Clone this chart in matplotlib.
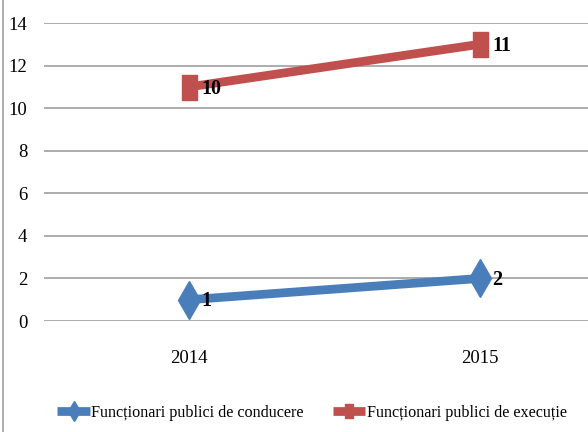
import numpy as np
import matplotlib.pyplot as plt
from matplotlib.lines import Line2D

plt.rcParams['font.family'] = ['Liberation Serif', 'DejaVu Serif']

ani = ['2014', '2015']
conducere = [1, 2]
executie = [10, 11]
serii = ['Funcționari publici de conducere', 'Funcționari publici de execuție']
y_ticks = [0, 2, 4, 6, 8, 10, 12, 14]

albastru = '#4A7EBB'
rosu = '#C0504D'

# patrat alungit pe verticala
dreptunghi = [(-0.6, -1), (0.6, -1), (0.6, 1), (-0.6, 1), (-0.6, -1)]

fig = plt.figure(figsize=(5.88, 4.32), dpi=100)
# zona graficului continua dincolo de marginea din dreapta
ax = fig.add_axes([44 / 588, 111 / 432, 581 / 588, 298 / 432])

x = np.arange(len(ani))
# linii cumulate: executie se aduna peste conducere
cumulat = np.array(conducere) + np.array(executie)

ax.plot(x, conducere, color=albastru, lw=6.3, marker='d', ms=19,
        solid_capstyle='butt', label=serii[0], zorder=3)
ax.plot(x, cumulat, color=rosu, lw=6.3, marker=dreptunghi, ms=18,
        solid_capstyle='butt', label=serii[1], zorder=3)

for xi, yi, v in zip(x, conducere, conducere):
    ax.annotate(str(v), (xi, yi), xytext=(9, -1), textcoords='offset points',
                va='center', ha='left', fontsize=14.5, fontweight='bold')
for xi, yi, v in zip(x, cumulat, executie):
    ax.annotate(str(v), (xi, yi), xytext=(9, -1.5), textcoords='offset points',
                va='center', ha='left', fontsize=14.5, fontweight='bold')

ax.set_xlim(-0.5, 1.5)
ax.set_ylim(0, 14)
ax.set_yticks(y_ticks)
ax.set_xticks(x)
ax.set_xticklabels(ani)
ax.grid(axis='y', color='#a6a6a6', lw=1.3)
ax.set_axisbelow(True)
ax.tick_params(axis='both', length=0, labelsize=13.5)
ax.tick_params(axis='y', pad=12)
ax.tick_params(axis='x', pad=21)
for s in ax.spines.values():
    s.set_visible(False)

fig.legend(loc='center', bbox_to_anchor=(312 / 588, 19 / 432), ncol=2,
           frameon=False, fontsize=11.6, handlelength=2.0, handletextpad=0.1,
           columnspacing=1.8, markerscale=0.55)

# chenarul din stanga
fig.add_artist(Line2D([2.5 / 588, 2.5 / 588], [0, 1], color='#a0a0a0', lw=1.2))

fig.savefig('out.png', dpi=100)
